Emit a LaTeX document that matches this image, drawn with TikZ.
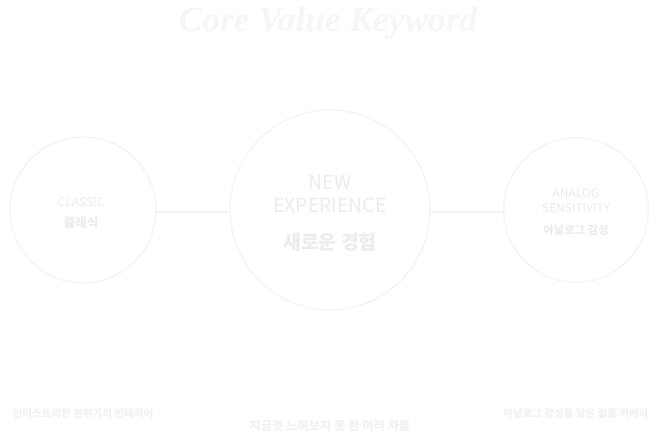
\documentclass[tikz,border=0pt]{standalone}
\usepackage{fontspec}
\setmainfont{Noto Sans CJK KR}
\newfontfamily\titlefont{Liberation Serif}
\definecolor{ringc}{HTML}{F3F3F3}
\definecolor{txtc}{HTML}{ECECEC}
\definecolor{titlec}{HTML}{F6F6F6}
\definecolor{subc}{HTML}{F1F1F1}
\begin{document}
\begin{tikzpicture}[x=0.75pt,y=-0.75pt,
  ring/.style={circle,draw=ringc,line width=0.9pt,inner sep=0pt},
  link/.style={draw=ringc,line width=0.9pt},
  lbl/.style={text=txtc,align=center,inner sep=0pt},
  sub/.style={text=subc,inner sep=0pt,font=\fontsize{7.9pt}{9pt}\selectfont\bfseries}]
\fill[white] (0,0) rectangle (658,435);
\useasboundingbox (0,0) rectangle (658,435);
\node[text=titlec,inner sep=0pt,font=\titlefont\bfseries\itshape\fontsize{26.5pt}{28pt}\selectfont] (title) at (328,23) {Core Value Keyword};
\node[ring,minimum size=109.5pt] (c1) at (83,210) {};
\node[ring,minimum size=150pt] (c2) at (330,210) {};
\node[ring,minimum size=108.5pt] (c3) at (576,210) {};
\draw[link] ([yshift=-1.5pt]c1.east) -- ([yshift=-1.5pt]c2.west);
\draw[link] ([yshift=-1.5pt]c2.east) -- ([yshift=-1.5pt]c3.west);
\node[lbl,font=\fontsize{9pt}{10pt}\selectfont] (t1a) at (81,202) {CLASSIC};
\node[lbl,font=\fontsize{9.5pt}{11pt}\selectfont\bfseries] (t1b) at (81,223) {클래식};
\node[lbl,font=\fontsize{14.5pt}{17pt}\selectfont] (t2a) at (330,194) {NEW\\EXPERIENCE};
\node[lbl,font=\fontsize{14.5pt}{16pt}\selectfont\bfseries] (t2b) at (330,242) {새로운 경험};
\node[lbl,font=\fontsize{9pt}{11.25pt}\selectfont] (t3a) at (576,201) {ANALOG\\SENSITIVITY};
\node[lbl,font=\fontsize{8.5pt}{10pt}\selectfont\bfseries] (t3b) at (576,230) {아날로그 감성};
\node[sub] (s1) at (83,414) {인더스트리한 분위기의 인테리어};
\node[sub,font=\fontsize{9.2pt}{10pt}\selectfont\bfseries] (s2) at (330,426) {지금껏 느껴보지 못 한 여러 차들};
\node[sub] (s3) at (576,414) {아날로그 감성을 담은 필름 카메라};
\end{tikzpicture}
\end{document}
